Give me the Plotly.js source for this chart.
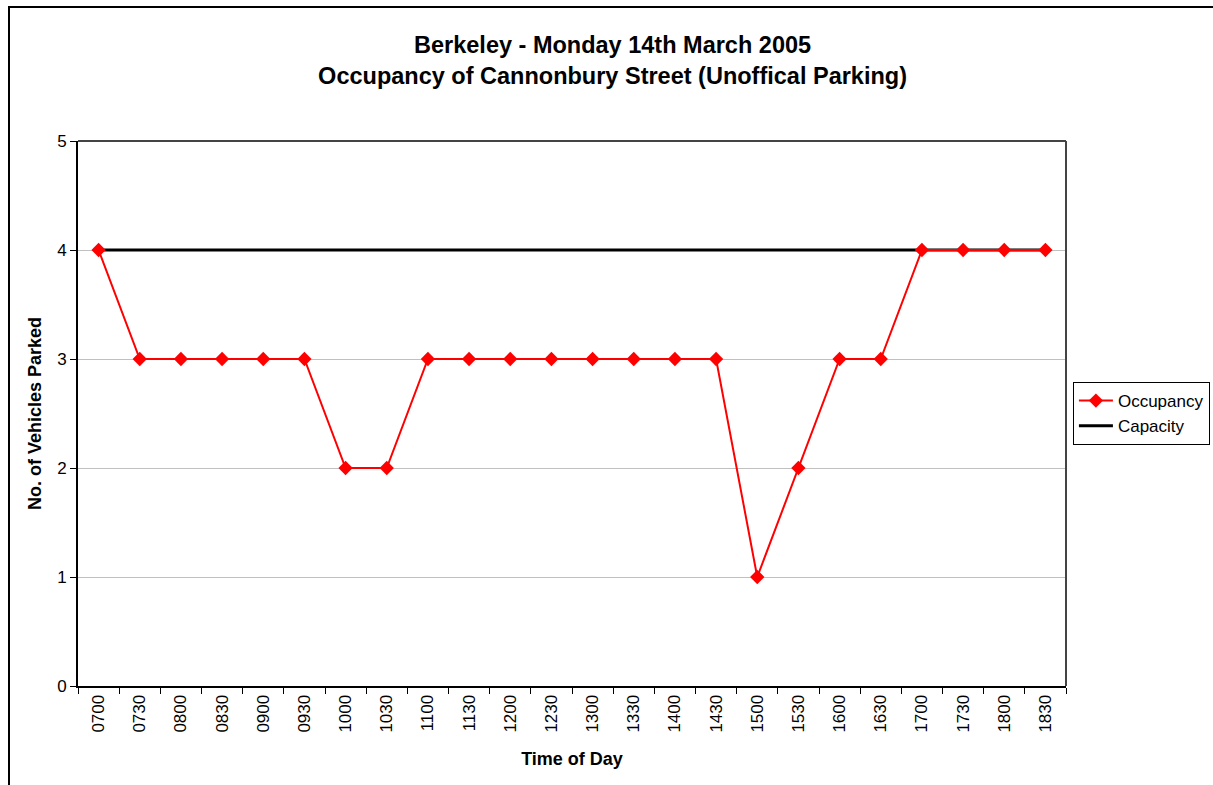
<!DOCTYPE html>
<html><head><meta charset="utf-8">
<script src="https://cdn.plot.ly/plotly-3.0.1.min.js"></script>
<style>
html,body{margin:0;padding:0;background:#fff;overflow:hidden;}
#chart{position:absolute;left:0;top:0;width:1213px;height:785px;}
#frame{position:absolute;left:8px;top:6px;width:1220px;height:800px;border:2px solid #000;pointer-events:none;}
</style></head>
<body>
<div id="chart"></div>
<div id="frame"></div>
<script>
const times = ["0700","0730","0800","0830","0900","0930","1000","1030","1100","1130","1200","1230","1300","1330","1400","1430","1500","1530","1600","1630","1700","1730","1800","1830"];
const occupancy = [4,3,3,3,3,3,2,2,3,3,3,3,3,3,3,3,1,2,3,3,4,4,4,4];
const capacity = [4,4,4,4,4,4,4,4,4,4,4,4,4,4,4,4,4,4,4,4,4,4,4,4];

const font = "Liberation Sans, Arial, sans-serif";
const traces = [
  {x: times, y: capacity, name: "Capacity", type: "scatter", mode: "lines",
   line: {color: "#000", width: 3}},
  {x: times, y: occupancy, name: "Occupancy", type: "scatter", mode: "lines+markers",
   line: {color: "#ff0000", width: 2}, marker: {symbol: "diamond", size: 11, color: "#ff0000"}}
];
const layout = {
  width: 1213, height: 785,
  margin: {l: 78, r: 147, t: 141, b: 99, autoexpand: false},
  paper_bgcolor: "#fff", plot_bgcolor: "#fff",
  font: {family: font, color: "#000", size: 16},
  title: {text: "<b>Berkeley - Monday 14th March 2005<br>Occupancy of Cannonbury Street (Unoffical Parking)</b>",
          font: {size: 23.5, family: font}, x: 0.505, xanchor: "center", y: 0.932, yanchor: "top"},
  showlegend: true,
  legend: {traceorder: "reversed", x: 1.007, xanchor: "left", y: 0.5, yanchor: "middle",
           bordercolor: "#000", borderwidth: 1, font: {size: 17, family: font},
           tracegroupgap: 0, itemwidth: 34},
  xaxis: {type: "category", tickson: "boundaries", ticks: "outside", ticklen: 6, tickcolor: "#000",
          tickangle: -90, showline: true, linecolor: "#000", linewidth: 2, mirror: false,
          showgrid: false, zeroline: false, range: [-0.5, 23.5], tickfont: {size: 17},
          title: {text: "<b>Time of Day</b>", font: {size: 18}, standoff: 21}},
  yaxis: {range: [0, 5], dtick: 1, ticks: "outside", ticklen: 6, tickcolor: "#000",
          showline: true, linecolor: "#000", linewidth: 2, gridcolor: "#c0c0c0", gridwidth: 1,
          zeroline: false, tickfont: {size: 17},
          title: {text: "<b>No. of Vehicles Parked</b>", font: {size: 18}, standoff: 11}},
  shapes: [
    {type: "line", xref: "paper", yref: "paper", x0: 0, x1: 1, y0: 1, y1: 1, line: {color: "#444", width: 2}},
    {type: "line", xref: "paper", yref: "paper", x0: 1, x1: 1, y0: 0, y1: 1, line: {color: "#444", width: 2}}
  ]
};
Plotly.newPlot("chart", traces, layout, {staticPlot: true, displayModeBar: false});
</script>
</body></html>
